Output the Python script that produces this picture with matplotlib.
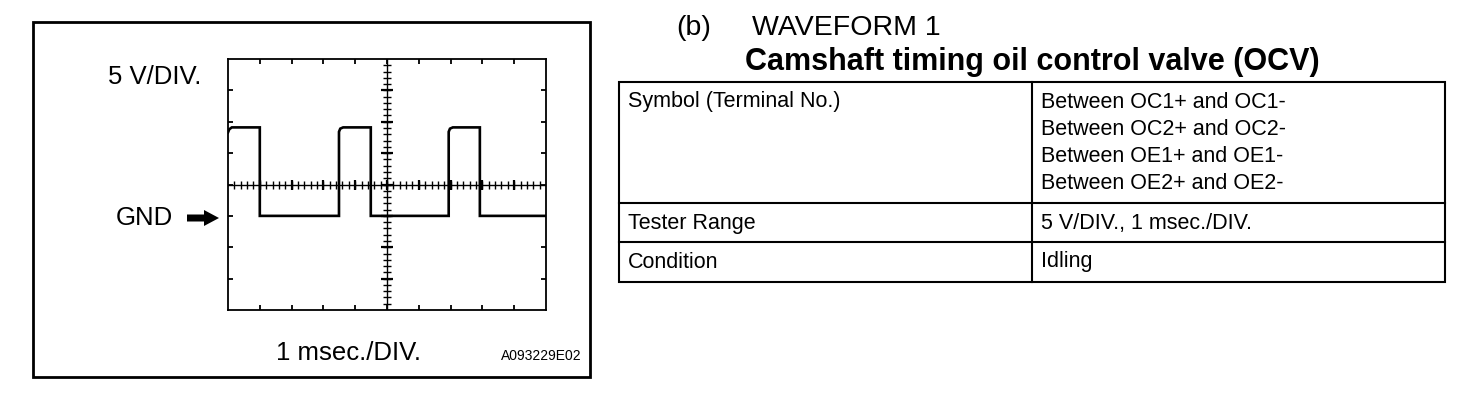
import numpy as np
import matplotlib
matplotlib.use("Agg")
import matplotlib.pyplot as plt
from matplotlib.patches import Rectangle, Polygon
from matplotlib.lines import Line2D

plt.rcParams['font.family'] = ['Liberation Sans', 'DejaVu Sans']

# ---------------- data ----------------
# waveform: time (ms) and voltage (V, relative to GND)
time_ms = [0.0, 0.04, 0.12, 1.0, 1.0, 3.49, 3.49, 3.53, 3.62, 4.49, 4.49, 6.94, 6.94, 6.98, 7.07, 7.92, 7.92, 10.0]
volts   = [13.3, 13.8, 14.1, 14.1, 0.0, 0.0, 13.4, 13.9, 14.1, 14.1, 0.0, 0.0, 13.4, 13.9, 14.1, 14.1, 0.0, 0.0]
volt_per_div = 5
ms_per_div = 1
n_xdiv = 10
n_ydiv = 8
gnd_div = 3  # GND level in divisions from the bottom

title_prefix = "(b)"
title_main = "WAVEFORM 1"
subtitle = "Camshaft timing oil control valve (OCV)"
row_labels = ["Symbol (Terminal No.)", "Tester Range", "Condition"]
row_values = [["Between OC1+ and OC1-", "Between OC2+ and OC2-",
               "Between OE1+ and OE1-", "Between OE2+ and OE2-"],
              ["5 V/DIV., 1 msec./DIV."],
              ["Idling"]]
y_scale_label = "5 V/DIV."
x_scale_label = "1 msec./DIV."
gnd_label = "GND"
fig_code = "A093229E02"

# ---------------- figure ----------------
W, H = 1472, 404
fig = plt.figure(figsize=(W / 100, H / 100), dpi=100)
fig.patch.set_facecolor('white')

def fx(x):
    return x / W

def fy(y):
    return 1 - y / H

# outer frame of the scope picture
fig.add_artist(Rectangle((fx(33), fy(377)), (590 - 33) / W, (377 - 22) / H,
                         transform=fig.transFigure, fill=False, lw=2.0, color='black'))

# scope screen
ax = fig.add_axes([fx(228), fy(310), (546 - 228) / W, (310 - 59) / H])
ymin = -gnd_div * volt_per_div
ymax = (n_ydiv - gnd_div) * volt_per_div
xmax = n_xdiv * ms_per_div
ax.set_xlim(0, xmax)
ax.set_ylim(ymin, ymax)
for s in ax.spines.values():
    s.set_linewidth(1.3)
ax.set_xticks(np.arange(1, n_xdiv) * ms_per_div)
ax.set_yticks(ymin + np.arange(1, n_ydiv) * volt_per_div)
ax.tick_params(direction='in', length=3.8, width=1.3, top=True, right=True,
               labelbottom=False, labelleft=False)

xc = xmax / 2
yc = (ymin + ymax) / 2
ax.axhline(yc, color='black', lw=1.0)
ax.axvline(xc, color='black', lw=1.0)
# graticule marks on the centre lines
xm = np.arange(1, n_xdiv * 5) * ms_per_div / 5
ym = ymin + np.arange(1, n_ydiv * 5) * volt_per_div / 5
ax.plot(xm, np.full_like(xm, yc), ls='none', marker='|', ms=5.5, mew=1.0, color='black')
ax.plot(np.full_like(ym, xc), ym, ls='none', marker='_', ms=6, mew=1.0, color='black')
xM = np.arange(1, n_xdiv) * ms_per_div
yM = ymin + np.arange(1, n_ydiv) * volt_per_div
ax.plot(xM, np.full_like(xM, yc, dtype=float), ls='none', marker='|', ms=7, mew=1.6, color='black')
ax.plot(np.full_like(yM, xc, dtype=float), yM, ls='none', marker='_', ms=8, mew=1.6, color='black')

# waveform
ax.plot(time_ms, volts, color='black', lw=1.9, solid_joinstyle='miter', clip_on=True)

# labels around the screen
fig.text(fx(108), fy(77), y_scale_label, fontsize=18.5, va='center', ha='left')
fig.text(fx(116), fy(218), gnd_label, fontsize=18.5, va='center', ha='left')
arrow = [(187, 214.5), (204, 214.5), (204, 210), (219, 218), (204, 226), (204, 221.5), (187, 221.5)]
fig.add_artist(Polygon([(fx(a), fy(b)) for a, b in arrow], closed=True,
                       transform=fig.transFigure, color='black', lw=0))
fig.text(fx(348), fy(353), x_scale_label, fontsize=18.5, va='center', ha='center')
fig.text(fx(582), fy(356), fig_code, fontsize=10, va='center', ha='right')

# title
fig.text(fx(676), fy(28), title_prefix, fontsize=20.5, va='center', ha='left')
fig.text(fx(752), fy(28), title_main, fontsize=20.5, va='center', ha='left')
fig.text(fx(745), fy(62), subtitle, fontsize=22, fontweight='bold', va='center', ha='left')

# table
tl, tr, tc = 619, 1445, 1032
row_edges = [82, 203, 242, 282]
lw_t = 1.5
fig.add_artist(Rectangle((fx(tl), fy(row_edges[-1])), (tr - tl) / W,
                         (row_edges[-1] - row_edges[0]) / H,
                         transform=fig.transFigure, fill=False, lw=lw_t, color='black'))
for yy in row_edges[1:-1]:
    fig.add_artist(Line2D([fx(tl), fx(tr)], [fy(yy), fy(yy)], transform=fig.transFigure,
                          lw=lw_t, color='black'))
fig.add_artist(Line2D([fx(tc), fx(tc)], [fy(row_edges[0]), fy(row_edges[-1])],
                      transform=fig.transFigure, lw=lw_t, color='black'))

line_step = 27.3
for i, (lab, vals) in enumerate(zip(row_labels, row_values)):
    y0 = row_edges[i] + 20
    fig.text(fx(628), fy(y0), lab, fontsize=15.5, va='center', ha='left')
    for j, v in enumerate(vals):
        fig.text(fx(1041), fy(y0 + j * line_step), v, fontsize=15.5, va='center', ha='left')

fig.savefig("out.png", dpi=100, facecolor='white')
